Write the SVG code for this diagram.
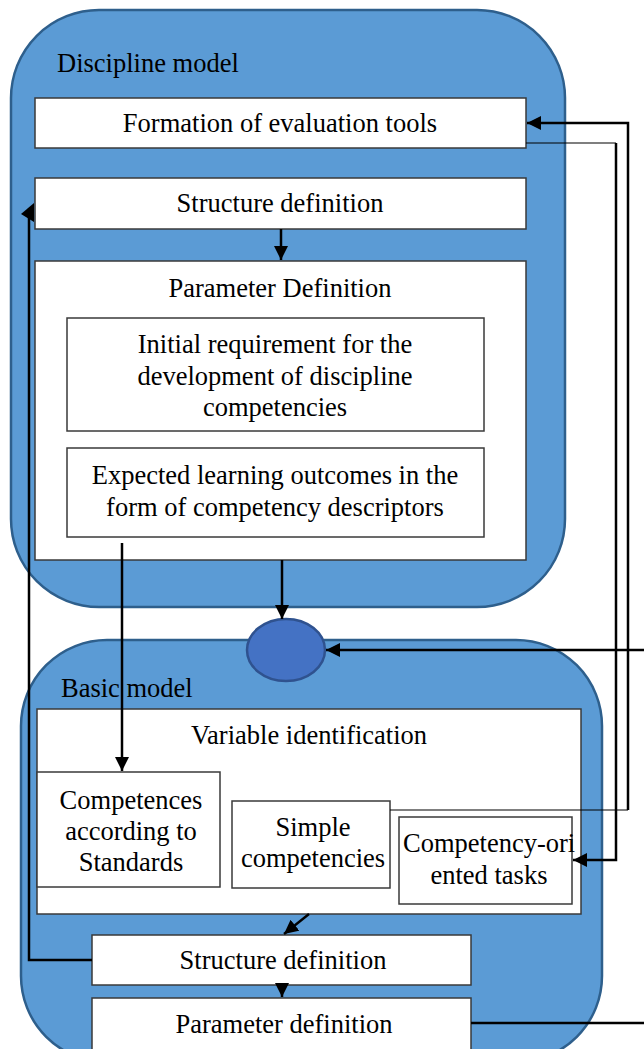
<svg xmlns="http://www.w3.org/2000/svg" width="644" height="1049" viewBox="0 0 644 1049">
<defs>
<marker id="ah" viewBox="0 0 10 10" refX="10" refY="5" markerWidth="14" markerHeight="14" markerUnits="userSpaceOnUse" orient="auto">
<path d="M0,0 L10,5 L0,10 z" fill="#000"/>
</marker>
</defs>
<style>
.cont{fill:#5B9BD5;stroke:#2E5F8C;stroke-width:2.5}
.box{fill:#fff;stroke:#3a3a3a;stroke-width:1.5}
.t{font-family:'Liberation Serif','Times New Roman',Tinos,'DejaVu Serif',serif;font-size:26.5px;fill:#000}
.c{text-anchor:middle}
.thick{fill:none;stroke:#000;stroke-width:2.5}
.thin{fill:none;stroke:#000;stroke-width:1.2}
</style>
<g id="discipline-model">
<rect class="cont" x="11" y="10" width="554" height="597" rx="88" ry="88"/>
<text class="t" x="57" y="72">Discipline model</text>
</g>
<g id="basic-model">
<rect class="cont" x="21" y="640" width="581" height="422" rx="86" ry="86"/>
<text class="t" x="61" y="697">Basic model</text>
</g>
<g id="formation">
<rect class="box" x="35" y="98" width="491" height="50"/>
<text class="t c" x="280" y="132">Formation of evaluation tools</text>
</g>
<g id="structure-top">
<rect class="box" x="35" y="178" width="491" height="51"/>
<text class="t c" x="280" y="212">Structure definition</text>
</g>
<g id="parameter-definition">
<rect class="box" x="35" y="261" width="491" height="299"/>
<text class="t c" x="280" y="297">Parameter Definition</text>
</g>
<g id="initial-requirement">
<rect class="box" x="67" y="318" width="417" height="113"/>
<text class="t c" x="275" y="353">Initial requirement for the</text>
<text class="t c" x="275" y="385">development of discipline</text>
<text class="t c" x="275" y="416">competencies</text>
</g>
<g id="expected-outcomes">
<rect class="box" x="67" y="448" width="417" height="89"/>
<text class="t c" x="275" y="484">Expected learning outcomes in the</text>
<text class="t c" x="275" y="516">form of competency descriptors</text>
</g>
<g id="junction">
<ellipse cx="286" cy="650" rx="39" ry="31" fill="#4472C4" stroke="#2F528F" stroke-width="2.5"/>
</g>
<g id="variable-identification">
<rect class="box" x="37" y="709" width="544" height="205"/>
<text class="t c" x="309" y="744">Variable identification</text>
</g>
<g id="competences-standards">
<rect class="box" x="37" y="772" width="183" height="115"/>
<text class="t c" x="131" y="809">Competences</text>
<text class="t c" x="131" y="840">according to</text>
<text class="t c" x="131" y="871">Standards</text>
</g>
<g id="simple-competencies">
<rect class="box" x="232" y="801" width="158" height="87"/>
<text class="t c" x="313" y="836">Simple</text>
<text class="t c" x="313" y="867">competencies</text>
</g>
<g id="competency-tasks">
<rect class="box" x="399" y="817" width="173" height="87"/>
<text class="t" x="403" y="852">Competency-ori</text>
<text class="t c" x="489" y="884">ented tasks</text>
</g>
<g id="structure-bottom">
<rect class="box" x="92" y="935" width="379" height="50"/>
<text class="t c" x="283" y="969">Structure definition</text>
</g>
<g id="parameter-bottom">
<rect class="box" x="92" y="998" width="379" height="60"/>
<text class="t c" x="284" y="1033">Parameter definition</text>
</g>
<g id="connectors">
<line class="thick" x1="281" y1="229" x2="281" y2="260" marker-end="url(#ah)"/>
<line class="thick" x1="282" y1="560" x2="282" y2="619" marker-end="url(#ah)"/>
<line class="thick" x1="122" y1="543" x2="122" y2="771" marker-end="url(#ah)"/>
<line class="thick" x1="309" y1="914" x2="284" y2="934" marker-end="url(#ah)"/>
<line class="thick" x1="282" y1="985" x2="282" y2="997" marker-end="url(#ah)"/>
<polyline class="thick" points="92,960 29,960 29,217"/>
<polygon points="21,214 34,203 34,222" fill="#000"/>
<polyline class="thick" points="628,810 628,123 527,123" marker-end="url(#ah)"/>
<polyline class="thin" points="390,810 628,810"/>
<polyline class="thin" points="526,143 616,143"/>
<polyline class="thick" points="616,143 616,860 573,860" marker-end="url(#ah)"/>
<line class="thick" x1="644" y1="650" x2="326" y2="650" marker-end="url(#ah)"/>
<line class="thick" x1="471" y1="1023" x2="644" y2="1023"/>
</g>
</svg>
